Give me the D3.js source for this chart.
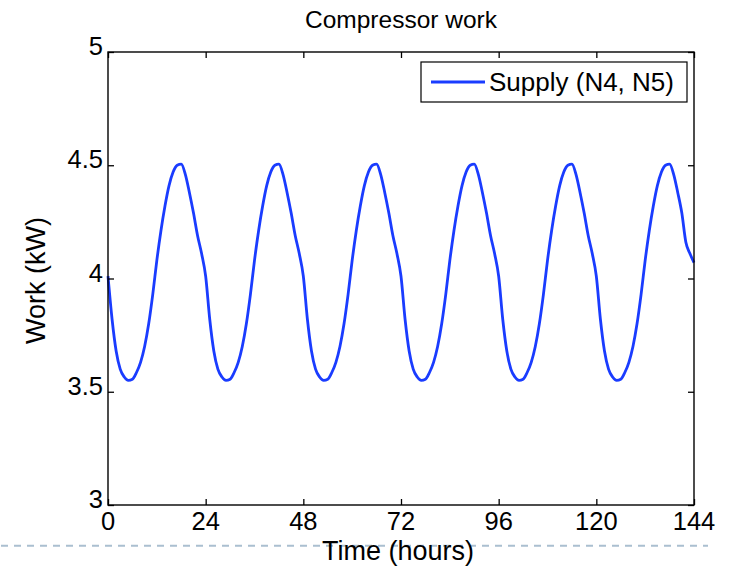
<!DOCTYPE html>
<html>
<head>
<meta charset="utf-8">
<script src="https://cdn.jsdelivr.net/npm/d3@7/dist/d3.min.js"></script>
<style>
  html, body { margin: 0; padding: 0; background: #fff; }
  svg { display: block; }
  text { font-family: "Liberation Sans", Arial, Helvetica, sans-serif; fill: #000; }
</style>
</head>
<body>
<svg id="chart" width="731" height="567"></svg>
<script>
// ---- data ----
const chartTitle = "Compressor work";
const xLabel = "Time (hours)";
const yLabel = "Work (kW)";
const seriesName = "Supply (N4, N5)";
const xTicks = [0, 24, 48, 72, 96, 120, 144];
const yTicks = [3, 3.5, 4, 4.5, 5];
const yTickLabels = ["3", "3.5", "4", "4.5", "5"];
// hourly time stamps 0..144
const hours = [
  0,1,2,3,4,5,6,7,8,9,10,11,12,13,14,15,16,17,18,19,20,21,22,23,
  24,25,26,27,28,29,30,31,32,33,34,35,36,37,38,39,40,41,42,43,44,45,46,47,
  48,49,50,51,52,53,54,55,56,57,58,59,60,61,62,63,64,65,66,67,68,69,70,71,
  72,73,74,75,76,77,78,79,80,81,82,83,84,85,86,87,88,89,90,91,92,93,94,95,
  96,97,98,99,100,101,102,103,104,105,106,107,108,109,110,111,112,113,114,115,116,117,118,119,
  120,121,122,123,124,125,126,127,128,129,130,131,132,133,134,135,136,137,138,139,140,141,142,143,
  144
];
// compressor work (kW)
const work = [
  4.01,3.82,3.68,3.60,3.565,3.55,3.555,3.585,3.63,3.70,3.80,3.93,4.08,4.21,4.32,4.41,4.47,4.50,4.505,4.46,4.38,4.29,4.19,4.11,
  4.01,3.82,3.68,3.60,3.565,3.55,3.555,3.585,3.63,3.70,3.80,3.93,4.08,4.21,4.32,4.41,4.47,4.50,4.505,4.46,4.38,4.29,4.19,4.11,
  4.01,3.82,3.68,3.60,3.565,3.55,3.555,3.585,3.63,3.70,3.80,3.93,4.08,4.21,4.32,4.41,4.47,4.50,4.505,4.46,4.38,4.29,4.19,4.11,
  4.01,3.82,3.68,3.60,3.565,3.55,3.555,3.585,3.63,3.70,3.80,3.93,4.08,4.21,4.32,4.41,4.47,4.50,4.505,4.46,4.38,4.29,4.19,4.11,
  4.01,3.82,3.68,3.60,3.565,3.55,3.555,3.585,3.63,3.70,3.80,3.93,4.08,4.21,4.32,4.41,4.47,4.50,4.505,4.46,4.38,4.29,4.19,4.11,
  4.01,3.82,3.68,3.60,3.565,3.55,3.555,3.585,3.63,3.70,3.80,3.93,4.08,4.21,4.32,4.41,4.47,4.50,4.505,4.46,4.38,4.29,4.16,4.11,
  4.07
];

// ---- layout ----
const svg = d3.select("#chart");
const L = 108, R = 694, T = 52, B = 505;
const x = d3.scaleLinear().domain([0, 144]).range([L, R]);
const y = d3.scaleLinear().domain([3, 5]).range([B, T]);
const tickLen = 6;
const tickFs = 25.5, titleFs = 24.5, labelFs = 27, legendFs = 26;

// decorative dashed line at bottom
svg.append("line")
  .attr("x1", 1).attr("x2", 708).attr("y1", 545.7).attr("y2", 545.7)
  .attr("stroke", "#aabfd0").attr("stroke-width", 2)
  .attr("stroke-dasharray", "7,6");

// curve
const line = d3.line().x((d, i) => x(hours[i])).y(d => y(d)).curve(d3.curveMonotoneX);
svg.append("path")
  .datum(work)
  .attr("d", line)
  .attr("fill", "none")
  .attr("stroke", "#1a3cff")
  .attr("stroke-width", 2.8)
  .attr("stroke-linejoin", "round");

// axes using d3 axis generators (inward ticks)
const axB = d3.axisBottom(x).tickValues(xTicks).tickSize(-tickLen).tickFormat("");
const axT = d3.axisTop(x).tickValues(xTicks).tickSize(-tickLen).tickFormat("");
const axLft = d3.axisLeft(y).tickValues(yTicks).tickSize(-tickLen).tickFormat("");
const axRt = d3.axisRight(y).tickValues(yTicks).tickSize(-tickLen).tickFormat("");
function styleAxis(g) {
  g.select(".domain").remove();
  g.selectAll(".tick line").attr("stroke", "#000").attr("stroke-width", 1.3);
}
svg.append("g").attr("transform", `translate(0,${B})`).call(axB).call(styleAxis);
svg.append("g").attr("transform", `translate(0,${T})`).call(axT).call(styleAxis);
svg.append("g").attr("transform", `translate(${L},0)`).call(axLft).call(styleAxis);
svg.append("g").attr("transform", `translate(${R},0)`).call(axRt).call(styleAxis);

// frame
svg.append("rect")
  .attr("x", L).attr("y", T).attr("width", R - L).attr("height", B - T)
  .attr("fill", "none").attr("stroke", "#000").attr("stroke-width", 1.4);

// tick labels
svg.selectAll("text.xt").data(xTicks).enter().append("text")
  .attr("class", "xt")
  .attr("x", d => x(d)).attr("y", B + 25)
  .attr("text-anchor", "middle").attr("font-size", tickFs)
  .text(d => d);
svg.selectAll("text.yt").data(yTicks).enter().append("text")
  .attr("class", "yt")
  .attr("x", L - 5).attr("y", d => y(d) + 3)
  .attr("text-anchor", "end").attr("font-size", tickFs)
  .text((d, i) => yTickLabels[i]);

// title & axis labels
svg.append("text")
  .attr("x", (L + R) / 2).attr("y", 28)
  .attr("text-anchor", "middle").attr("font-size", titleFs)
  .text(chartTitle);
svg.append("text")
  .attr("x", 398).attr("y", 560)
  .attr("text-anchor", "middle").attr("font-size", labelFs)
  .text(xLabel);
svg.append("text")
  .attr("transform", `translate(45,${(T + B) / 2 + 2}) rotate(-90)`)
  .attr("text-anchor", "middle").attr("font-size", labelFs)
  .text(yLabel);

// legend
const lg = svg.append("g");
lg.append("rect")
  .attr("x", 421).attr("y", 62).attr("width", 266).attr("height", 40)
  .attr("fill", "#fff").attr("stroke", "#000").attr("stroke-width", 1.2);
lg.append("line")
  .attr("x1", 431).attr("x2", 485).attr("y1", 82).attr("y2", 82)
  .attr("stroke", "#1a3cff").attr("stroke-width", 2.8);
lg.append("text")
  .attr("x", 489).attr("y", 91)
  .attr("font-size", legendFs)
  .text(seriesName);
</script>
</body>
</html>
